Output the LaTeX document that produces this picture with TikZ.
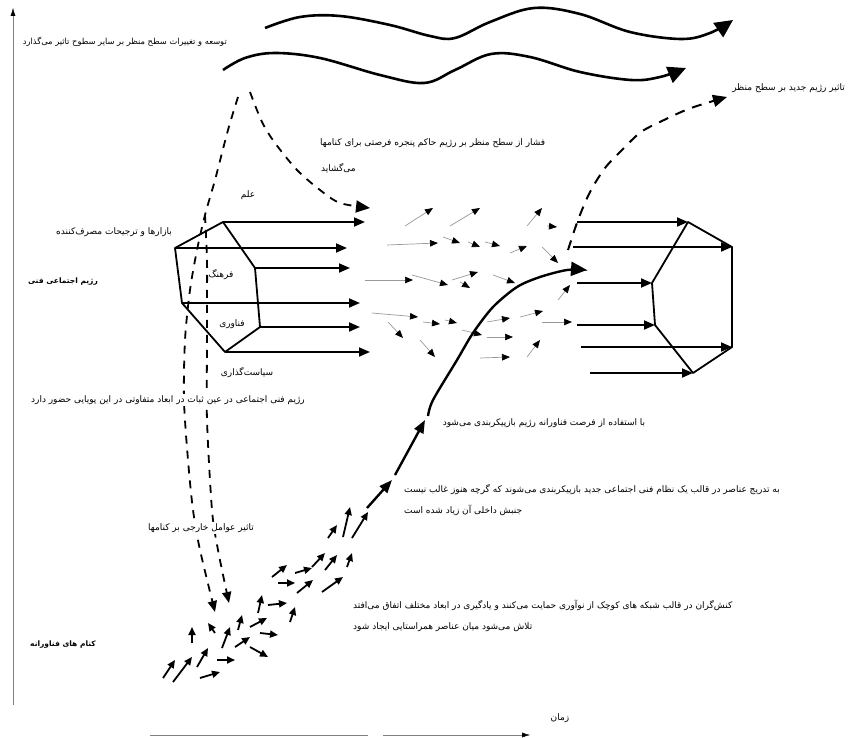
\documentclass[tikz,border=0pt]{standalone}
\usepackage{xcolor}
\usepackage{fontspec}
\usepackage{tikz}
\usetikzlibrary{calc}
\usetikzlibrary{arrows.meta}
\newfontfamily\arabicfont[Script=Arabic]{DejaVu Sans}
\TeXXeTstate=1
\newcommand{\fatext}[1]{\beginR #1\endR}

\begin{document}
\begin{tikzpicture}[x=1pt,y=-1pt]
    \tikzstyle{axis}=[-{Latex[length=8pt,width=5pt,black]},color=gray,thin]
    \tikzstyle{landscape}=[-{Triangle[length=18pt,width=17pt]},line width=2.6pt,color=black]
    \tikzstyle{regime side}=[line width=1.8pt,color=black,line join=round]
    \tikzstyle{regime arrow}=[-{Triangle[length=11pt,width=9pt]},line width=1.8pt,color=black]
    \tikzstyle{pressure}=[line width=1.8pt,dash pattern=on 8pt off 7pt,color=black]
    \tikzstyle{drift}=[-{Triangle[length=8pt,width=6.5pt,black]},color=gray!80,line width=0.7pt]
    \tikzstyle{niche}=[-{Triangle[length=8pt,width=7pt]},line width=1.8pt,color=black]
    \tikzstyle{breakthrough}=[line width=2.4pt,color=black]
    \tikzstyle{label fa}=[font=\arabicfont\fontsize{9}{10}\selectfont,inner sep=1pt]
    \tikzstyle{label fa bold}=[font=\arabicfont\bfseries\fontsize{7.5}{9}\selectfont,inner sep=1pt]

    \useasboundingbox (0,0) rectangle (848,738);

    % old regime
    \coordinate (old_1) at (175,248);
    \coordinate (old_2) at (223,222);
    \coordinate (old_3) at (255,268);
    \coordinate (old_4) at (260,327);
    \coordinate (old_5) at (225,352);
    \coordinate (old_6) at (182,303);

    % new regime
    \coordinate (new_1) at (688,222);
    \coordinate (new_2) at (732,247);
    \coordinate (new_3) at (732,347);
    \coordinate (new_4) at (693,373);
    \coordinate (new_5) at (655,325);
    \coordinate (new_6) at (652,283);

    % Axis
    \draw[style=axis] (13,705) -- (13,8);
    \draw[gray,thin] (150,735) -- (368,735);
    \draw[style=axis] (383,735) -- (530,735);
    \node[style=label fa] (time) at (560,718) {\fatext{زمان}};

    % Landscape
    \draw[style=landscape] plot[smooth,tension=0.6] coordinates {(265,28) (300,17) (340,16) (390,25) (430,36) (455,38) (490,22) (534,8) (580,14) (630,32) (681,39) (710,33) (733,20)};
    \draw[style=landscape] plot[smooth,tension=0.6] coordinates {(223,70) (245,58) (275,53) (320,58) (380,75) (424,83) (455,70) (491,54) (530,57) (580,72) (631,80) (660,77) (686,68)};

    % Dashed influences
    \draw[style=pressure,-{Triangle[length=14pt,width=12pt]}] plot[smooth] coordinates {(250,92) (262,122) (275,143) (297,170) (320,190) (340,203) (370,208)};
    \draw[style=pressure,-{Triangle[length=11pt,width=9pt]}] plot[smooth] coordinates {(238,97) (228,130) (215,180) (205,215) (197,250) (190,290) (185,340) (184,400) (188,460) (193,510) (200,550) (215,612)};
    \draw[style=pressure,-{Triangle[length=11pt,width=9pt]}] plot[smooth] coordinates {(205,215) (207,260) (207,300) (207,350) (207,420) (212,510) (218,550) (229,603)};
    \draw[style=pressure,line width=2pt,dash pattern=on 10pt off 8pt,-{Triangle[length=14pt,width=12pt]}] plot[smooth] coordinates {(568,250) (578,220) (590,192) (605,168) (622,150) (641,132) (664,120) (691,108) (727,97)};

    % Old regime hexagon
    \draw[style=regime side] (old_1) -- (old_2) -- (old_3) -- (old_4) -- (old_5) -- (old_6) -- cycle;
    \draw[style=regime arrow] (old_2) -- ($(old_2)+(142,0)$);
    \draw[style=regime arrow] (old_1) -- ($(old_1)+(172,0)$);
    \draw[style=regime arrow] (old_3) -- ($(old_3)+(95,0)$);
    \draw[style=regime arrow] (old_6) -- ($(old_6)+(178,0)$);
    \draw[style=regime arrow] (old_4) -- ($(old_4)+(100,0)$);
    \draw[style=regime arrow] (old_5) -- ($(old_5)+(145,0)$);

    % New regime hexagon
    \draw[style=regime side] (new_1) -- (new_2) -- (new_3) -- (new_4) -- (new_5) -- (new_6) -- cycle;
    \draw[style=regime arrow] ($(new_1)-(111,0)$) -- (new_1);
    \draw[style=regime arrow] ($(new_2)-(159,0)$) -- (new_2);
    \draw[style=regime arrow] ($(new_6)-(75,0)$) -- (new_6);
    \draw[style=regime arrow] ($(new_5)-(78,0)$) -- (new_5);
    \draw[style=regime arrow] ($(new_3)-(151,0)$) -- (new_3);
    \draw[style=regime arrow] ($(new_4)-(103,0)$) -- (new_4);

    % Window of opportunity
    \foreach \xa/\ya/\xb/\yb in {405/226/433/208, 450/226/480/208, 387/245/438/243, 443/237/460/243,
        468/242/480/247, 485/242/500/246, 510/253/527/246, 527/226/542/208, 547/226/557/227,
        542/247/558/263, 365/280/413/280, 412/275/448/285, 452/280/478/272, 460/282/470/288,
        493/275/515/283, 372/313/418/317, 388/322/403/338, 423/322/440/324, 445/320/457/323,
        462/330/482/335, 487/322/510/318, 520/317/543/311, 542/322/572/322, 487/337/513/337,
        420/340/435/357, 480/358/510/357, 527/357/540/340, 558/300/570/285}
        \draw[style=drift] (\xa,\ya) -- (\xb,\yb);

    % Niches
    \foreach \xa/\ya/\xb/\yb in {163/678/175/660, 173/682/192/657, 197/667/208/648, 200/678/220/672,
        217/660/235/660, 222/648/230/627, 192/643/192/627, 215/633/208/623, 235/647/250/637,
        238/630/242/615, 250/627/267/618, 250/647/268/657, 260/633/278/635, 258/613/262/595,
        268/605/287/603, 290/622/295/607, 272/577/287/565, 278/583/295/583, 295/573/312/568,
        297/593/313/580, 322/592/343/577, 312/567/325/553, 325/570/337/555, 347/567/352/553,
        328/538/337/525, 343/537/350/507, 352/538/368/512}
        \draw[style=niche] (\xa,\ya) -- (\xb,\yb);

    % Breakthrough
    \draw[style=breakthrough,-{Triangle[length=13pt,width=10pt]}] (367,508) -- (392,480);
    \draw[style=breakthrough,-{Triangle[length=13pt,width=10pt]}] (395,475) -- (425,420);
    \draw[style=breakthrough,-{Triangle[length=16pt,width=14pt]}] plot[smooth] coordinates {(428,416) (433,400) (457,360) (473,333) (493,307) (517,287) (540,277) (567,270) (587,270)};

    % Labels
    \node[style=label fa,font=\arabicfont\fontsize{8.3}{10}\selectfont,anchor=east] (land) at (228,42) {\fatext{توسعه و تغییرات سطح منظر بر سایر سطوح تاثیر می‌گذارد}};
    \node[style=label fa,anchor=east] (newland) at (846,88) {\fatext{تاثیر رژیم جدید بر سطح منظر}};
    \node[style=label fa,anchor=west] (window) at (319,143) {\fatext{فشار از سطح منظر بر رژیم حاکم پنجره فرصتی برای کنامها}};
    \node[style=label fa,anchor=west] (window2) at (320,168) {\fatext{می‌گشاید}};
    \node[style=label fa] (science) at (248,195) {\fatext{علم}};
    \node[style=label fa] (markets) at (114,232) {\fatext{بازارها و ترجیحات مصرف‌کننده}};
    \node[style=label fa bold] (regime) at (63,282) {\fatext{رژیم اجتماعی فنی}};
    \node[style=label fa] (culture) at (221,275) {\fatext{فرهنگ}};
    \node[style=label fa] (tech) at (232,324) {\fatext{فناوری}};
    \node[style=label fa,fill=white] (policy) at (247,373) {\fatext{سیاست‌گذاری}};
    \node[style=label fa,fill=white] (stable) at (168,400) {\fatext{رژیم فنی اجتماعی در عین ثبات در ابعاد متفاوتی در این پویایی حضور دارد}};
    \node[style=label fa] (reconf) at (544,423) {\fatext{با استفاده از فرصت فناورانه رژیم بازپیکربندی می‌شود}};
    \node[style=label fa,anchor=west] (gradual) at (403,490) {\fatext{به تدریج عناصر در قالب یک نظام فنی اجتماعی جدید بازپیکربندی می‌شوند که گرچه هنوز غالب نیست}};
    \node[style=label fa,anchor=west] (gradual2) at (403,510) {\fatext{جنبش داخلی آن زیاد شده است}};
    \node[style=label fa,fill=white] (external) at (201,528) {\fatext{تاثیر عوامل خارجی بر کنامها}};
    \node[style=label fa,anchor=west] (actors) at (352,605) {\fatext{کنش‌گران در قالب شبکه های کوچک از نوآوری حمایت می‌کنند و یادگیری در ابعاد مختلف اتفاق می‌افتد}};
    \node[style=label fa,anchor=west] (actors2) at (352,627) {\fatext{تلاش می‌شود میان عناصر همراستایی ایجاد شود}};
    \node[style=label fa bold] (niches) at (63,645) {\fatext{کنام های فناورانه}};

\end{tikzpicture}
\end{document}
